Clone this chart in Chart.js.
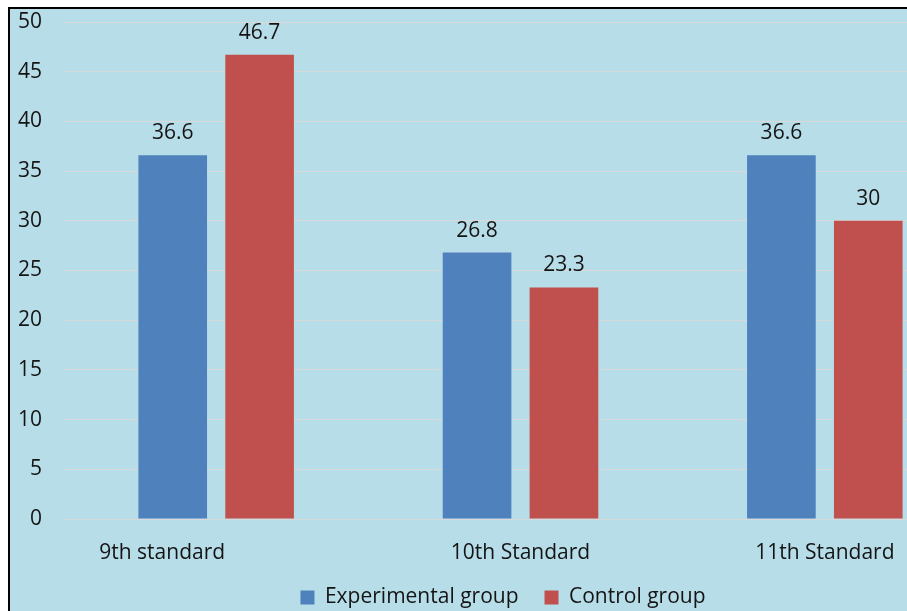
<!DOCTYPE html>
<html>
<head>
<meta charset="utf-8">
<script src="https://cdn.jsdelivr.net/npm/chart.js@4"></script>
<style>
  html, body { margin: 0; padding: 0; background: #fff; overflow: hidden; width: 907px; height: 611px; }
  #frame {
    position: absolute; left: 8px; top: 7px;
    width: 1000px; height: 700px;
    border-left: 2px solid #000; border-top: 2px solid #000;
    background: #b7dde8;
  }
  canvas { position: absolute; left: 0; top: 0; }
</style>
</head>
<body>
<div id="frame"><canvas id="myChart" width="986" height="620"></canvas></div>
<script>
// categorias y valores
const categories = ["9th standard", "10th Standard", "11th Standard"];
const experimental = [36.6, 26.8, 36.6];
const control = [46.7, 23.3, 30];
const yTicks = [0, 5, 10, 15, 20, 25, 30, 35, 40, 45, 50];

const FONT = "'Open Sans', sans-serif";
const TEXT = "#141414";

// etiquetas de los ejes dibujadas a mano (la primera categoria va desplazada a la izquierda)
const labelShift = [-54, 0, 0];
const axisLabels = {
  id: "axisLabels",
  afterDraw(chart) {
    const c = chart.ctx;
    const x = chart.scales.x;
    const y = chart.scales.y;
    c.save();
    c.font = "21px " + FONT;
    c.fillStyle = TEXT;
    c.textAlign = "center";
    c.textBaseline = "alphabetic";
    categories.forEach((lab, i) => {
      c.fillText(lab, x.getPixelForValue(i) + labelShift[i], chart.chartArea.bottom + 40);
    });
    c.textAlign = "right";
    c.textBaseline = "middle";
    yTicks.forEach(v => {
      c.fillText(String(v), chart.chartArea.left - 22, y.getPixelForValue(v));
    });
    c.restore();
  },
};

// valores encima de cada barra
const barValues = {
  id: "barValues",
  afterDatasetsDraw(chart) {
    const c = chart.ctx;
    c.save();
    c.font = "21px " + FONT;
    c.fillStyle = TEXT;
    c.textAlign = "center";
    c.textBaseline = "alphabetic";
    chart.data.datasets.forEach((ds, di) => {
      chart.getDatasetMeta(di).data.forEach((bar, i) => {
        c.fillText(String(ds.data[i]), bar.x, bar.y - 16);
      });
    });
    c.restore();
  },
};

const ctx = document.getElementById("myChart");

new Chart(ctx, {
  type: "bar",
  data: {
    labels: categories,
    datasets: [
      {
        label: "Experimental group",
        data: experimental,
        backgroundColor: "#4f81bd",
        borderWidth: 0,
      },
      {
        label: "Control group",
        data: control,
        backgroundColor: "#c0504d",
        borderWidth: 0,
      },
    ],
  },
  options: {
    responsive: false,
    animation: false,
    categoryPercentage: 0.571,
    barPercentage: 0.79,
    layout: { padding: { left: 19, right: 19, top: 13, bottom: 11 } },
    plugins: {
      tooltip: { enabled: false },
      legend: {
        position: "bottom",
        labels: {
          boxWidth: 14,
          boxHeight: 14,
          padding: 26,
          color: TEXT,
          font: { family: FONT, size: 21 },
        },
      },
    },
    scales: {
      x: {
        grid: { display: false },
        border: { display: false },
        ticks: { display: false },
        afterFit(scale) { scale.height = 42; },
      },
      y: {
        min: 0,
        max: 50,
        afterBuildTicks(scale) { scale.ticks = yTicks.map(v => ({ value: v })); },
        grid: { color: "#d9d9d9", lineWidth: 1, drawTicks: false },
        border: { display: false },
        ticks: { display: false },
        afterFit(scale) { scale.width = 35; },
      },
    },
  },
  plugins: [axisLabels, barValues],
});
</script>
</body>
</html>
